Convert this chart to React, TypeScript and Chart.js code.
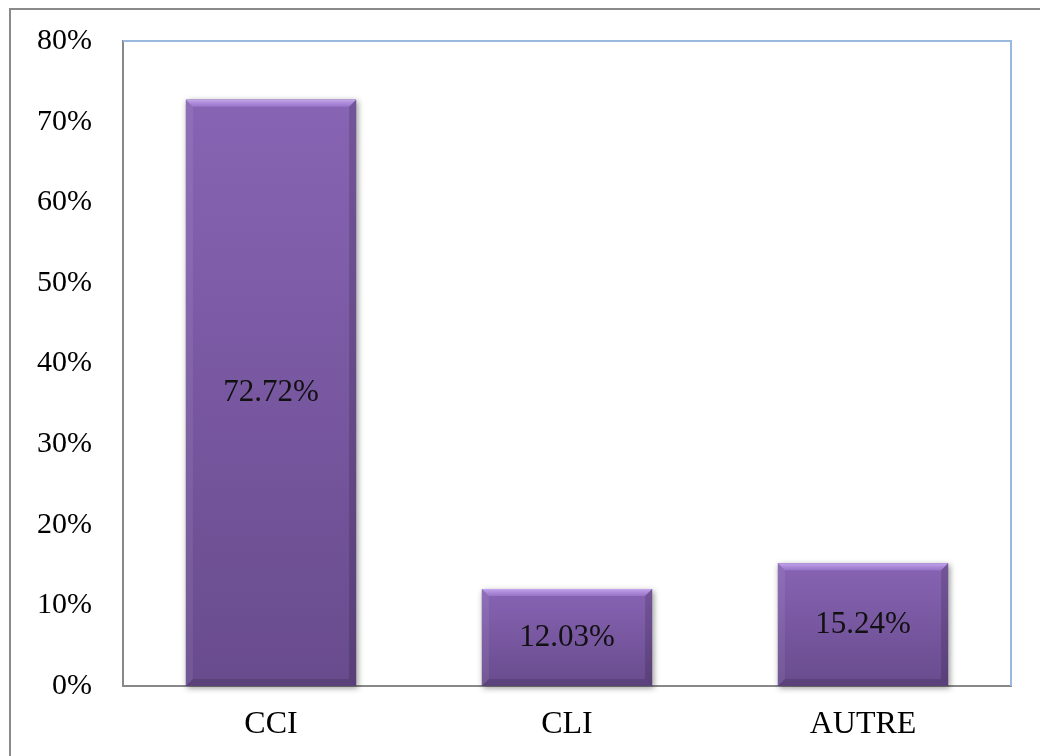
import React, { useEffect, useRef } from "react";
import { Chart, registerables } from "chart.js";

Chart.register(...registerables);

const categories = ["CCI", "CLI", "AUTRE"];
const values = [72.72, 12.03, 15.24];
const valueLabels = ["72.72%", "12.03%", "15.24%"];
const yMax = 80;
const yStep = 10;

const FONT = "'Liberation Serif', 'Times New Roman', serif";

const decorPlugin = {
  id: "decor",
  beforeDraw(chart: any) {
    const ctx = chart.ctx;
    ctx.save();
    ctx.fillStyle = "#ffffff";
    ctx.fillRect(0, 0, chart.width, chart.height);
    ctx.strokeStyle = "#8a8a8a";
    ctx.lineWidth = 2;
    ctx.strokeRect(10, 9, chart.width + 10, chart.height + 10);
    ctx.restore();
  },
  beforeDatasetsDraw(chart: any) {
    const ctx = chart.ctx;
    const a = chart.chartArea;
    ctx.save();
    ctx.strokeStyle = "#9bb8de";
    ctx.lineWidth = 2;
    ctx.beginPath();
    ctx.moveTo(a.left, a.top);
    ctx.lineTo(a.right, a.top);
    ctx.lineTo(a.right, a.bottom);
    ctx.stroke();
    const meta = chart.getDatasetMeta(0);
    meta.data.forEach((bar: any) => {
      const { x, y, base, width } = bar.getProps(["x", "y", "base", "width"], true);
      ctx.save();
      ctx.shadowColor = "rgba(0,0,0,0.4)";
      ctx.shadowBlur = 6;
      ctx.shadowOffsetX = 1.5;
      ctx.shadowOffsetY = 1.5;
      ctx.fillStyle = "#6a4c90";
      ctx.fillRect(x - width / 2, y, width, base - y);
      ctx.restore();
    });
    ctx.restore();
  },
  afterDatasetsDraw(chart: any) {
    const ctx = chart.ctx;
    const meta = chart.getDatasetMeta(0);
    meta.data.forEach((bar: any, i: number) => {
      const { x, y, base, width } = bar.getProps(["x", "y", "base", "width"], true);
      const l = x - width / 2;
      const r = x + width / 2;
      const t = y;
      const b = base;
      const s = 7;
      ctx.save();
      const poly = (pts: number[][], fill: any) => {
        ctx.beginPath();
        ctx.moveTo(pts[0][0], pts[0][1]);
        for (let k = 1; k < pts.length; k++) ctx.lineTo(pts[k][0], pts[k][1]);
        ctx.closePath();
        ctx.fillStyle = fill;
        ctx.fill();
      };
      const topG = ctx.createLinearGradient(0, t, 0, t + s);
      topG.addColorStop(0, "rgba(200,170,240,0.95)");
      topG.addColorStop(1, "rgba(165,130,215,0.6)");
      poly([[l, t], [r, t], [r - s, t + s], [l + s, t + s]], topG);
      poly([[l, t], [l + s, t + s], [l + s, b - s], [l, b]], "rgba(255,255,255,0.07)");
      poly([[r, t], [r - s, t + s], [r - s, b - s], [r, b]], "rgba(0,0,0,0.15)");
      poly([[l, b], [l + s, b - s], [r - s, b - s], [r, b]], "rgba(0,0,0,0.13)");
      ctx.fillStyle = "#111111";
      ctx.font = `31px ${FONT}`;
      ctx.textAlign = "center";
      ctx.textBaseline = "middle";
      ctx.fillText(valueLabels[i], x, (t + b) / 2);
      ctx.restore();
    });
  },
};

export default function App() {
  const ref = useRef<HTMLCanvasElement>(null);
  useEffect(() => {
    const canvas = ref.current!;
    const chart = new Chart(canvas, {
      type: "bar",
      data: {
        labels: categories,
        datasets: [
          {
            data: values,
            backgroundColor: (c: any) => {
              const ys = c.chart.scales && c.chart.scales.y;
              if (!ys || c.raw === undefined) return "#7a57a5";
              const top = ys.getPixelForValue(c.raw);
              const bottom = ys.getPixelForValue(0);
              if (!isFinite(top) || !isFinite(bottom) || top === bottom) return "#7a57a5";
              const g = c.chart.ctx.createLinearGradient(0, top, 0, bottom);
              g.addColorStop(0, "#8864b4");
              g.addColorStop(1, "#684b8d");
              return g;
            },
            borderWidth: 0,
            categoryPercentage: 1,
            barPercentage: 0.575,
          },
        ],
      },
      options: {
        animation: false,
        responsive: false,
        devicePixelRatio: 1,
        layout: { padding: { left: 0, top: 41, right: 29, bottom: 0 } },
        plugins: {
          legend: { display: false },
          tooltip: { enabled: false },
        },
        scales: {
          x: {
            grid: { display: false, drawTicks: false },
            border: { display: true, color: "#888888", width: 2 },
            ticks: {
              color: "#000000",
              font: { family: FONT, size: 32 },
              padding: 19,
            },
            afterFit: (s: any) => {
              s.height = 70;
              s.paddingLeft = 0;
              s.paddingRight = 0;
            },
          },
          y: {
            min: 0,
            max: yMax,
            grid: { display: false, drawTicks: false },
            border: { display: true, color: "#888888", width: 2 },
            ticks: {
              stepSize: yStep,
              color: "#000000",
              font: { family: FONT, size: 30 },
              padding: 31,
              callback: (v: any) => `${v}%`,
            },
            afterFit: (s: any) => {
              s.width = 123;
              s.paddingTop = 0;
              s.paddingBottom = 0;
            },
          },
        },
      },
      plugins: [decorPlugin],
    });
    return () => chart.destroy();
  }, []);
  return (
    <div style={{ position: "fixed", left: 0, top: 0, width: 1040, height: 756 }}>
      <canvas ref={ref} width={1040} height={756} style={{ display: "block" }} />
    </div>
  );
}
